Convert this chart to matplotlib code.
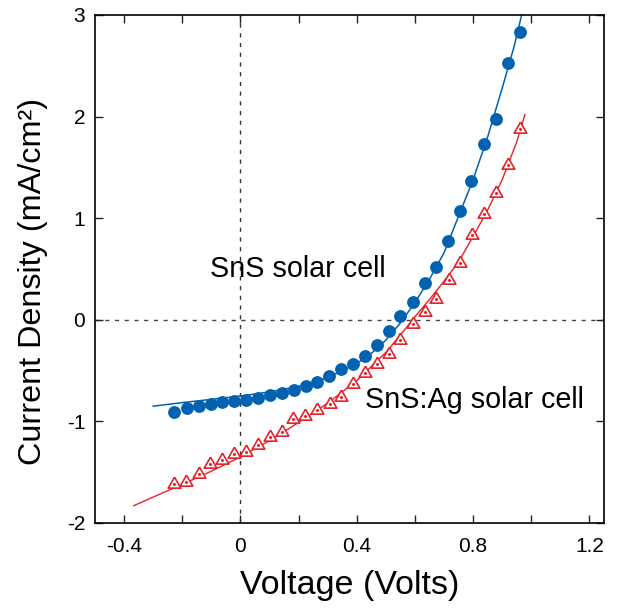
import matplotlib
matplotlib.use("Agg")
import matplotlib.pyplot as plt
from matplotlib.ticker import FixedLocator

plt.rcParams['font.family'] = ['Liberation Sans', 'DejaVu Sans']

# ---- data ----
sns_v = [-0.227, -0.184, -0.143, -0.102, -0.062, -0.021, 0.019, 0.061, 0.102, 0.143,
         0.183, 0.224, 0.264, 0.305, 0.346, 0.386, 0.429, 0.470, 0.511, 0.550,
         0.593, 0.633, 0.673, 0.714, 0.754, 0.794, 0.837, 0.879, 0.919, 0.960]
sns_j = [-0.904, -0.871, -0.845, -0.826, -0.809, -0.796, -0.786, -0.767, -0.743, -0.717,
         -0.694, -0.655, -0.609, -0.553, -0.488, -0.432, -0.353, -0.245, -0.107, 0.040,
         0.172, 0.364, 0.523, 0.776, 1.071, 1.363, 1.730, 1.976, 2.525, 2.830]

sns_fit_v = [-0.30, -0.2, -0.1, 0.0, 0.1, 0.2, 0.3, 0.4, 0.45, 0.5, 0.55, 0.6, 0.65,
             0.7, 0.75, 0.8, 0.85, 0.9, 0.94, 0.967]
sns_fit_j = [-0.85, -0.815, -0.783, -0.75, -0.71, -0.655, -0.57, -0.43, -0.33, -0.20,
             -0.03, 0.17, 0.40, 0.66, 1.02, 1.38, 1.80, 2.28, 2.68, 3.0]

ag_v = [-0.227, -0.186, -0.144, -0.103, -0.062, -0.023, 0.018, 0.060, 0.102, 0.142,
        0.181, 0.223, 0.264, 0.307, 0.347, 0.387, 0.429, 0.470, 0.510, 0.549,
        0.593, 0.633, 0.673, 0.716, 0.756, 0.796, 0.837, 0.878, 0.919, 0.960]
ag_j = [-1.616, -1.593, -1.521, -1.419, -1.380, -1.321, -1.304, -1.235, -1.150, -1.107,
        -0.976, -0.947, -0.891, -0.832, -0.757, -0.632, -0.521, -0.438, -0.340, -0.197,
        -0.044, 0.072, 0.207, 0.395, 0.562, 0.835, 1.038, 1.245, 1.524, 1.875]

ag_fit_v = [-0.367, -0.3, -0.2, -0.1, 0.0, 0.1, 0.2, 0.3, 0.4, 0.5, 0.55, 0.6,
            0.65, 0.7, 0.75, 0.8, 0.85, 0.9, 0.95, 0.978]
ag_fit_j = [-1.83, -1.745, -1.62, -1.49, -1.35, -1.19, -1.01, -0.82, -0.60,
            -0.32, -0.15, 0.03, 0.20, 0.38, 0.57, 0.82, 1.08, 1.38, 1.75, 2.02]

x_major = [-0.4, 0, 0.4, 0.8, 1.2]
x_labels = ['-0.4', '0', '0.4', '0.8', '1.2']
x_minor = [-0.2, 0.2, 0.6, 1.0]
y_ticks = [-2, -1, 0, 1, 2, 3]
y_labels = ['-2', '-1', '0', '1', '2', '3']

blue = '#0062B0'
red = '#E8202A'

fig = plt.figure(figsize=(6.28, 6.08), dpi=100)
ax = fig.add_axes([95/628, 1-523/608, 509/628, 508/608])

ax.axvline(0, color='#333333', lw=1.0, dashes=(3, 4), zorder=1)
ax.axhline(0, color='#444444', lw=1.0, dashes=(3, 4), zorder=1)

ax.plot(sns_fit_v, sns_fit_j, color=blue, lw=1.1, zorder=2)
ax.plot(ag_fit_v, ag_fit_j, color=red, lw=1.0, zorder=2)

ax.plot(sns_v, sns_j, ls='none', marker='o', ms=8.2, mfc=blue, mec=blue, zorder=3)
tri = [(0, 1), (-0.866, -0.5), (0.866, -0.5), (0, 1)]
ax.plot(ag_v, ag_j, ls='none', marker=tri, ms=10.5, mfc='white', mec=red,
        mew=1.2, zorder=3)
ax.plot(ag_v, ag_j, ls='none', marker='o', ms=1.2, mfc=red, mec=red, zorder=4)

ax.set_xlim(-0.5, 1.25)
ax.set_ylim(-2, 3)
ax.xaxis.set_major_locator(FixedLocator(x_major))
ax.set_xticklabels(x_labels)
ax.xaxis.set_minor_locator(FixedLocator(x_minor))
ax.set_yticks(y_ticks)
ax.set_yticklabels(y_labels)

ax.tick_params(which='both', direction='in', top=True, right=True, length=5.5,
               width=1.0, color='#222222')
ax.tick_params(axis='x', which='major', labelsize=15, pad=10)
ax.tick_params(axis='y', which='major', labelsize=15, pad=7)
for s in ax.spines.values():
    s.set_linewidth(1.2)

ax.set_xlabel('Voltage (Volts)', fontsize=24.5, labelpad=10)
ax.set_ylabel('Current Density (mA/cm²)', fontsize=23.3)
ax.yaxis.set_label_coords(-0.093, 0.476)

ax.text(-0.103, 0.424, 'SnS solar cell', fontsize=20.7, ha='left', va='baseline')
ax.text(0.430, -0.871, 'SnS:Ag solar cell', fontsize=20.7, ha='left', va='baseline')

fig.savefig('out.png', dpi=100)
